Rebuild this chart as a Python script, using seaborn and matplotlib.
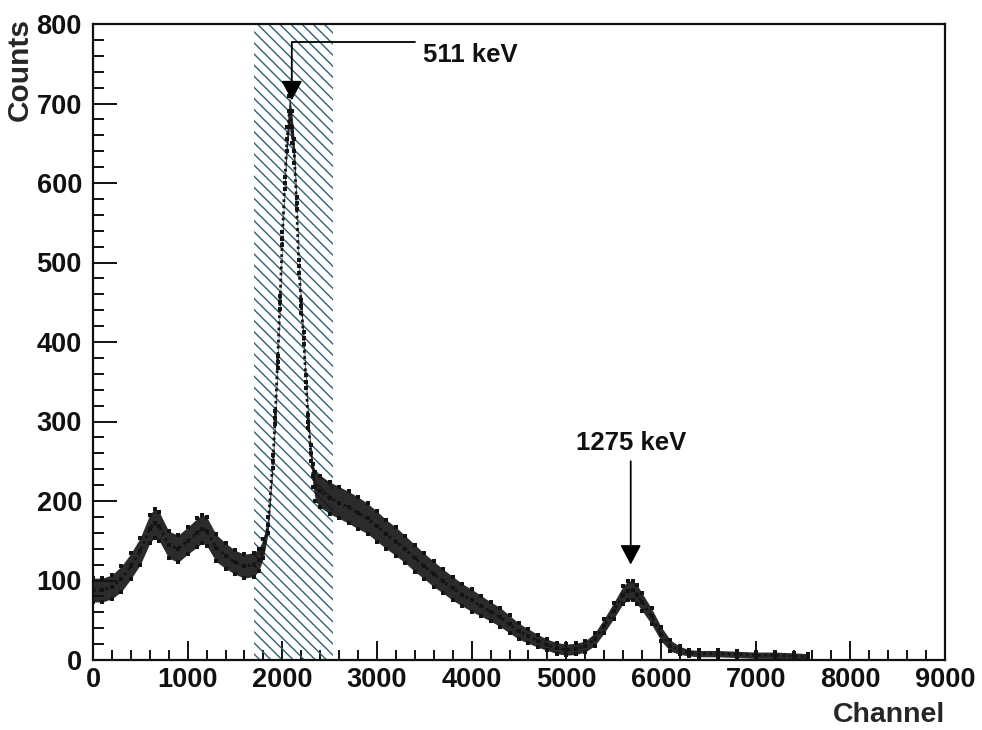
import matplotlib
matplotlib.use("Agg")
import matplotlib.pyplot as plt
from matplotlib.ticker import MultipleLocator
import pandas as pd
import seaborn as sns

# Na-22 pulse-height spectrum: sampled channel, mean counts, half-width of the scatter band
channel = [
    0, 100, 200, 300, 400, 500, 600, 650, 700, 800,
    900, 1000, 1100, 1150, 1200, 1300, 1400, 1500, 1600, 1700,
    1750, 1800, 1850, 1900, 1925, 1950, 1975, 2000, 2025, 2050,
    2075, 2100, 2125, 2150, 2175, 2200, 2225, 2250, 2275, 2300,
    2325, 2350, 2400, 2500, 2600, 2700, 2800, 2900, 3000, 3100,
    3200, 3300, 3400, 3500, 3600, 3700, 3800, 3900, 4000, 4100,
    4200, 4300, 4400, 4500, 4600, 4700, 4800, 4900, 5000, 5100,
    5200, 5300, 5400, 5500, 5600, 5650, 5700, 5750, 5800, 5900,
    6000, 6100, 6200, 6300, 6400, 6600, 6800, 7000, 7200, 7400,
    7550,
]
counts = [
    88, 88, 92, 102, 118, 137, 165, 172, 168, 145,
    140, 150, 160, 165, 162, 141, 131, 123, 118, 120,
    126, 140, 170, 250, 305, 375, 450, 530, 600, 655,
    690, 670, 640, 575, 495, 445, 405, 350, 300, 260,
    232, 218, 212, 204, 198, 192, 185, 178, 168, 158,
    149, 139, 128, 118, 108, 99, 90, 82, 75, 68,
    61, 54, 45, 36, 30, 24, 19, 15, 13, 14,
    17, 26, 43, 62, 82, 87, 88, 82, 73, 55,
    33, 18, 12, 9, 8, 8, 7, 6, 6, 5,
    4,
]
spread = [
    15, 15, 15, 16, 16, 17, 18, 18, 18, 17,
    17, 17, 18, 18, 18, 17, 16, 15, 15, 15,
    14, 12, 10, 8, 8, 8, 8, 8, 8, 15,
    20, 20, 15, 8, 8, 8, 8, 8, 8, 10,
    14, 18, 20, 20, 20, 20, 20, 19, 19, 18,
    18, 17, 17, 16, 16, 15, 15, 14, 14, 13,
    12, 12, 11, 10, 9, 8, 7, 7, 7, 7,
    7, 8, 9, 10, 11, 12, 12, 12, 11, 10,
    9, 7, 5, 4, 4, 4, 4, 4, 4, 4,
    4,
]

# coincidence window around the annihilation peak
window = [1700, 2540]

# photopeak labels and the channels their arrows point at
peak_names = ["511 keV", "1275 keV"]
peak_channel = [2100, 5680]

sns.set_theme(style="ticks")
plt.rcParams["font.family"] = ["Liberation Sans", "DejaVu Sans"]
plt.rcParams["font.weight"] = "bold"
plt.rcParams["hatch.linewidth"] = 1.0

spectrum = pd.DataFrame({"channel": channel, "counts": counts, "spread": spread})
spectrum["low"] = spectrum["counts"] - spectrum["spread"]
spectrum["high"] = spectrum["counts"] + spectrum["spread"]

# points along the band edges and centre, for the dotted texture
band_points = pd.concat([
    spectrum[["channel", "low"]].rename(columns={"low": "value"}),
    spectrum[["channel", "high"]].rename(columns={"high": "value"}),
    spectrum[["channel", "counts"]].rename(columns={"counts": "value"}),
])

fig = plt.figure(figsize=(9.82, 7.30), dpi=100)
ax = fig.add_axes([93 / 982, 1 - 660 / 730, 852 / 982, 636 / 730])

ink = "#141414"
ax.axvspan(window[0], window[1], facecolor="none", edgecolor="#2e6078",
           hatch="\\\\\\", linewidth=0, zorder=1)
ax.fill_between(spectrum["channel"], spectrum["low"], spectrum["high"],
                color=ink, linewidth=0, alpha=0.9, zorder=2)
sns.lineplot(data=spectrum, x="channel", y="counts", color=ink,
             linewidth=2.0, linestyle=(0, (1, 1.2)), ax=ax, zorder=3)
sns.scatterplot(data=band_points, x="channel", y="value",
                marker="s", s=7, color=ink, linewidth=0, ax=ax, zorder=3)

# 511 keV: bent arrow from the label down onto the peak
arrow_kw = dict(arrowstyle="-|>,head_length=0.6,head_width=0.32",
                color="black", lw=1.3, mutation_scale=20,
                shrinkA=0, shrinkB=0)
ax.plot([peak_channel[0], 3404], [777, 777], color="black", lw=1.3, zorder=4)
ax.annotate("", xy=(peak_channel[0], 704), xytext=(peak_channel[0], 777),
            arrowprops=arrow_kw, zorder=4)
ax.text(3490, 761, peak_names[0], ha="left", va="center",
        fontsize=18.5, fontweight="bold", color="#111111")

# 1275 keV: straight arrow below its label
ax.annotate("", xy=(peak_channel[1], 120), xytext=(peak_channel[1], 250),
            arrowprops=arrow_kw, zorder=4)
ax.text(peak_channel[1], 273, peak_names[1], ha="center", va="center",
        fontsize=18.5, fontweight="bold", color="#111111")

ax.set_xlim(0, 9000)
ax.set_ylim(0, 800)
ax.xaxis.set_major_locator(MultipleLocator(1000))
ax.xaxis.set_minor_locator(MultipleLocator(200))
ax.yaxis.set_major_locator(MultipleLocator(100))
ax.yaxis.set_minor_locator(MultipleLocator(20))

ax.tick_params(axis="both", which="both", direction="in", width=1.4,
               colors="#111111", top=False, right=False)
ax.tick_params(axis="y", which="major", length=17, pad=8, labelsize=19.5)
ax.tick_params(axis="y", which="minor", length=8)
ax.tick_params(axis="x", which="major", length=14, pad=5, labelsize=19.5)
ax.tick_params(axis="x", which="minor", length=7)
for lab in ax.get_xticklabels() + ax.get_yticklabels():
    lab.set_fontweight("bold")

for side in ["left", "right", "top", "bottom"]:
    ax.spines[side].set_visible(True)
    ax.spines[side].set_linewidth(1.6)
    ax.spines[side].set_color("#111111")

ax.set_xlabel("Channel", loc="right", fontsize=20.5, fontweight="bold")
ax.set_ylabel("Counts", loc="top", fontsize=21.5, fontweight="bold")
ax.xaxis.set_label_coords(1.0, -0.066)
ax.yaxis.set_label_coords(-0.069, 1.01)

fig.savefig("out.png", dpi=100, facecolor="white")
